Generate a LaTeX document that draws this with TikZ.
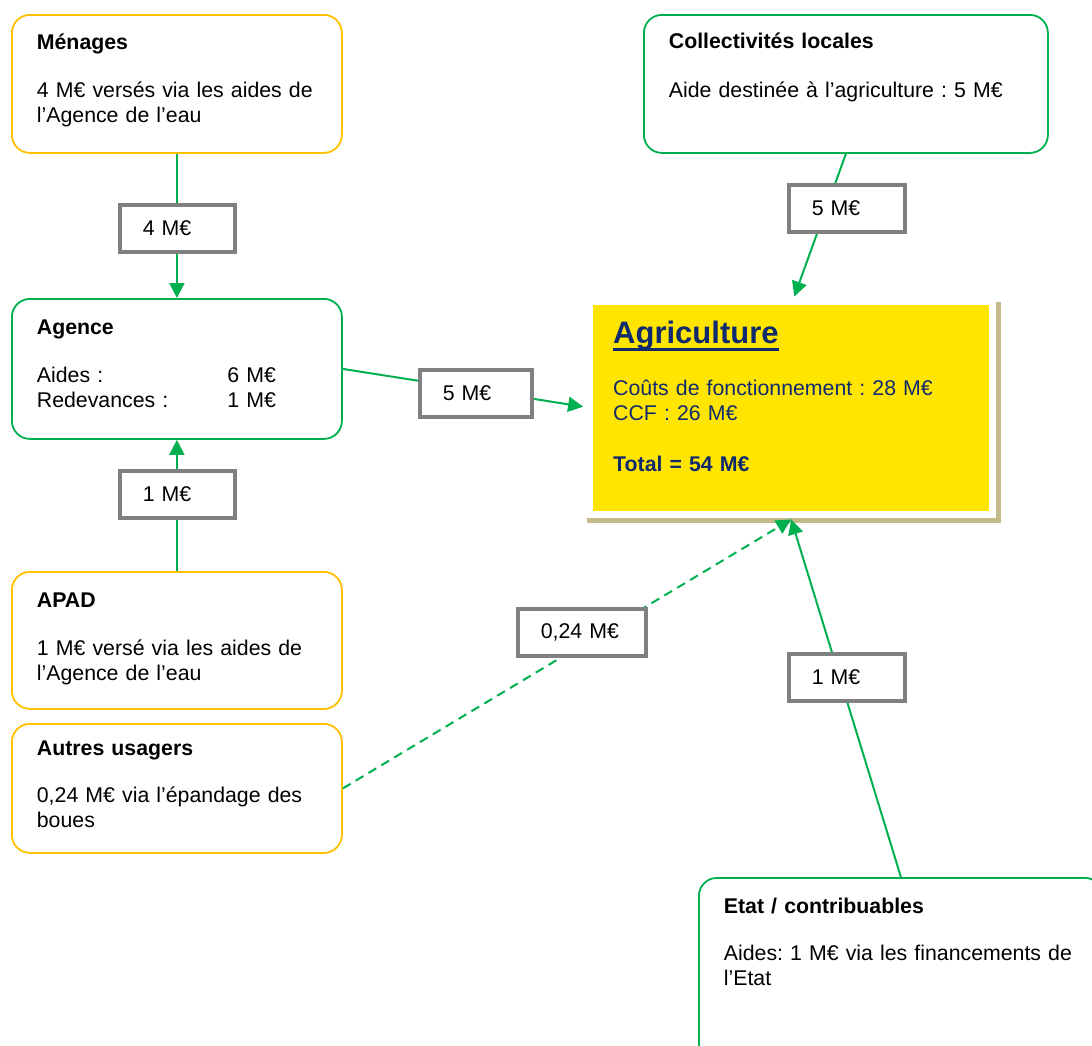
\documentclass[tikz,border=0pt]{standalone}
\usepackage{fontspec}
\setmainfont{Liberation Sans}
\usepackage{xcolor}
\usepackage{tikz}
\usetikzlibrary{arrows.meta,positioning,calc}
\definecolor{srcorange}{HTML}{FFC000}
\definecolor{flowgreen}{HTML}{00B050}
\definecolor{tagframe}{HTML}{808080}
\definecolor{agriyellow}{HTML}{FFE500}
\definecolor{agrinavy}{HTML}{102A6E}
\definecolor{agrishadow}{HTML}{C4BA8A}
\frenchspacing
\newcommand{\boxfont}{\fontsize{21.3}{25}\selectfont}
\newsavebox{\titlebox}
\newcommand{\titleline}[1]{\sbox{\titlebox}{#1}\rlap{\rule[-8pt]{\wd\titlebox}{3.5pt}}\usebox{\titlebox}}
\newcommand{\topgap}[1]{\rule{0pt}{#1}}
\newcommand{\botgap}[1]{\rule[-#1]{0pt}{0pt}}

\begin{document}
\begin{tikzpicture}[
  x=1pt, y=-1pt,
  srcbox/.style={rectangle, rounded corners=18pt, draw=#1, line width=1.8pt, fill=white, anchor=north west, align=left, inner xsep=25pt, inner ysep=0pt, font=\boxfont},
  agribox/.style={rectangle, fill=agriyellow, anchor=north west, align=left, inner xsep=20pt, inner ysep=0pt, text=agrinavy, font=\boxfont},
  amount/.style={rectangle, draw=tagframe, line width=3.5pt, fill=white, anchor=north west, align=left, inner xsep=23pt, inner ysep=0pt, minimum height=47pt, font=\boxfont},
  flow/.style={-{Triangle[length=15pt,width=15pt]}, line width=2pt, draw=flowgreen}
]
  \useasboundingbox (0,0) rectangle (1092,1045);
  \clip (0,0) rectangle (1092,1045);

  \node[srcbox=srcorange, text width=280pt] (menages) at (11,14) {\topgap{35pt}\textbf{Ménages}\\[23pt]4 M€ versés via les aides de\\l’Agence de l’eau\botgap{30pt}};
  \node[srcbox=flowgreen, text width=280pt] (agence) at (11,298) {\topgap{36pt}\textbf{Agence}\\[23pt]\makebox[239pt][l]{Aides :\hfill 6 M€}\\\makebox[239pt][l]{Redevances :\hfill 1 M€}\botgap{31pt}};
  \node[srcbox=srcorange, text width=280pt] (apad) at (11,571) {\topgap{36pt}\textbf{APAD}\\[23pt]1 M€ versé via les aides de\\l’Agence de l’eau\botgap{28pt}};
  \node[srcbox=srcorange, text width=280pt] (autres) at (11,723) {\topgap{32pt}\textbf{Autres usagers}\\[22pt]0,24 M€ via l’épandage des\\boues\botgap{25pt}};
  \node[srcbox=flowgreen, text width=354pt] (collect) at (643,14) {\topgap{34pt}\textbf{Collectivités locales}\\[24pt]Aide destinée à l’agriculture : 5 M€\botgap{55pt}};
  \node[srcbox=flowgreen, text width=354pt] (etat) at (698,877) {\topgap{36pt}\textbf{Etat / contribuables}\\[22pt]Aides: 1 M€ via les financements de\\l’Etat\botgap{90pt}};

  \node[agribox, text width=356pt] (agri) at (593,305) {\topgap{38pt}{\fontsize{31}{36}\selectfont\titleline{\textbf{Agriculture}}}\\[27pt]Coûts de fonctionnement : 28 M€\\CCF : 26 M€\\[26pt]\textbf{Total = 54 M€}\botgap{40pt}};
  \draw[agrishadow, line width=4.5pt] ([xshift=9pt,yshift=3pt]agri.north east) -- ([xshift=9pt,yshift=-9pt]agri.south east) -- ([xshift=-6pt,yshift=-9pt]agri.south west);
  \coordinate (agrifoot) at ([yshift=-8pt]agri.south);

  \draw[flow] (menages) -- (agence);
  \draw[flow] (apad) -- (agence);
  \draw[flow, shorten >=10pt] (agence.east) -- (agri.west);
  \draw[flow, shorten >=9pt] (collect.south) -- (agri.north);
  \draw[flow, dash pattern=on 9pt off 6pt] (autres.east) -- (agrifoot);
  \draw[flow] (etat.north) -- (agrifoot);

  \node[amount, text width=69pt] (menflow) at (118,203) {4 M€};
  \node[amount, text width=69pt] (apadflow) at (118,469) {1 M€};
  \node[amount, text width=66pt] (ageflow) at (418,368) {5 M€};
  \node[amount, text width=70pt] (colflow) at (787,183) {5 M€};
  \node[amount, text width=82pt] (autflow) at (516,607) {0,24 M€};
  \node[amount, text width=70pt] (etatflow) at (787,652) {1 M€};
\end{tikzpicture}
\end{document}
